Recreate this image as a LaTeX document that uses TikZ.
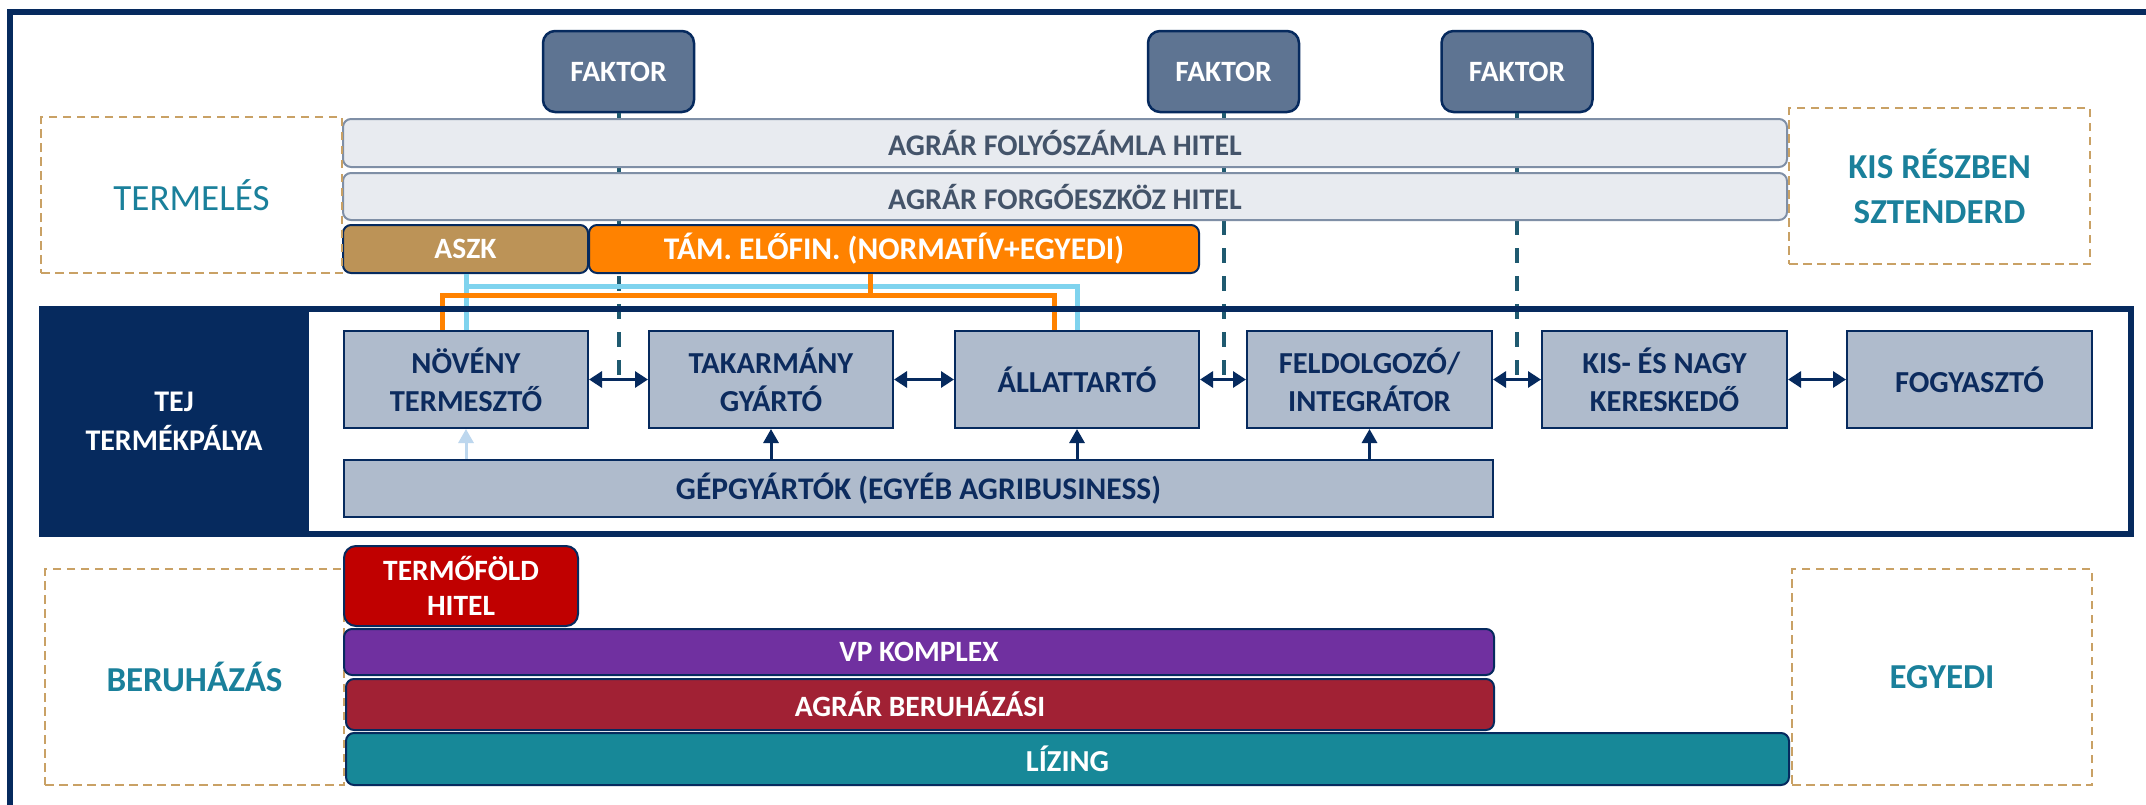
\documentclass[tikz,border=0pt]{standalone}
\usepackage{fontspec}
\setmainfont{Carlito}
\usetikzlibrary{arrows.meta}
\definecolor{navy}{HTML}{062A5E}
\definecolor{ptext}{HTML}{0C2B5E}
\definecolor{faktorfill}{HTML}{5E7492}
\definecolor{flink}{HTML}{1F5A70}
\definecolor{barfill}{HTML}{E8EBF0}
\definecolor{bardraw}{HTML}{7F8FA6}
\definecolor{bartext}{HTML}{44546A}
\definecolor{pfill}{HTML}{AFBBCC}
\definecolor{aszk}{HTML}{BC9357}
\definecolor{orng}{HTML}{FF8200}
\definecolor{lblue}{HTML}{7FD3EE}
\definecolor{pblue}{HTML}{BDD7EE}
\definecolor{tanc}{HTML}{C9A165}
\definecolor{tealtext}{HTML}{1A809B}
\definecolor{redc}{HTML}{C00000}
\definecolor{purp}{HTML}{7030A0}
\definecolor{maroon}{HTML}{A12134}
\definecolor{tealbar}{HTML}{178898}
\newcommand\myfs[2]{\fontsize{#1}{#2}\selectfont}
\begin{document}
\begin{tikzpicture}[x=1pt,y=-1pt,
  faktor/.style={draw=navy, line width=2.5pt, fill=faktorfill, rounded corners=12pt, text=white, font=\myfs{29.5}{35}\bfseries, minimum width=151pt, minimum height=81pt, inner sep=0pt},
  bar/.style={draw=bardraw, line width=2pt, fill=barfill, rounded corners=8pt, text=bartext, font=\myfs{30}{36}\bfseries, minimum width=1444pt, inner sep=0pt},
  cbox/.style={draw=navy, line width=2pt, rounded corners=8pt, text=white, font=\myfs{29.5}{35}\bfseries, align=center, inner sep=0pt},
  pbox/.style={draw=navy, line width=2pt, fill=pfill, text=ptext, font=\myfs{30.5}{38}\bfseries, align=center, minimum width=244pt, minimum height=97pt, inner sep=0pt},
  dbox/.style={draw=tanc, line width=2.5pt, dash pattern=on 8.5pt off 5.5pt, text=tealtext, align=center, minimum width=300pt, inner sep=0pt},
  flinesolid/.style={draw=flink, line width=4pt},
  flinedash/.style={draw=flink, line width=4pt, dash pattern=on 15pt off 13pt},
  dbl/.style={draw=navy, line width=3pt, {Triangle[length=13pt,width=16pt]}-{Triangle[length=13pt,width=16pt]}},
  uparr/.style={draw=navy, line width=3pt, -{Triangle[length=14pt,width=15pt]}},
  lbline/.style={draw=lblue, line width=5pt},
  orline/.style={draw=orng, line width=5pt}
]
\clip (0,0) rectangle (2146,804);
\fill[white] (0,0) rectangle (2146,804);
\draw[navy, line width=6pt] (10,12) rectangle (2200,900);

% FAKTOR boxes
\node[faktor] (F1) at (618.5,71.5) {FAKTOR};
\node[faktor] (F2) at (1223.5,71.5) {FAKTOR};
\node[faktor] (F3) at (1517,71.5) {FAKTOR};

\coordinate (bar2bot) at (0,220);
\coordinate (arrowy) at (0,379);

% process boxes
\path (466,379.5) node[pbox] (NOV) {NÖVÉNY\\TERMESZTŐ};
\path (771,379.5) node[pbox] (TAK) {TAKARMÁNY\\GYÁRTÓ};
\path (1077,379.5) node[pbox] (ALL) {ÁLLATTARTÓ};
\path (1369.5,379.5) node[pbox, minimum width=245pt] (FEL) {FELDOLGOZÓ/\\INTEGRÁTOR};
\path (1664.5,379.5) node[pbox, minimum width=245pt] (KER) {KIS- ÉS NAGY\\KERESKEDŐ};
\path (1969.5,379.5) node[pbox, minimum width=245pt] (FOG) {FOGYASZTÓ};

% FAKTOR lines
\foreach \f in {F1,F2,F3}{
  \draw[flinesolid] (\f.south) -- (\f.south |- bar2bot);
  \draw[flinedash] (\f.south |- bar2bot) -- (\f.south |- arrowy);
}

% bars
\node[bar, minimum height=48pt] (B1) at (1065,143) {AGRÁR FOLYÓSZÁMLA HITEL};
\node[bar, minimum height=47pt] (B2) at (1065,196.5) {AGRÁR FORGÓESZKÖZ HITEL};
\node[cbox, fill=aszk, minimum width=245pt, minimum height=48pt] (ASZK) at (465.5,249) {ASZK};
\node[cbox, fill=orng, minimum width=610pt, minimum height=48pt, font=\myfs{31.5}{36}\bfseries] (TAM) at (894,249) {TÁM. ELŐFIN. (NORMATÍV+EGYEDI)};

% connectors light blue and orange
\coordinate (lby) at (0,286);
\coordinate (ory) at (0,295);
\draw[lbline] (NOV.north |- ASZK.south) -- (NOV.north);
\draw[lbline] (NOV.north |- lby) -| (ALL.north);
\draw[orline] ([xshift=-24pt]TAM.south) -- ([xshift=-24pt]TAM.south |- ory);
\draw[orline] ([xshift=-24pt]NOV.north) |- ([xshift=-23pt]ALL.north |- ory) -- ([xshift=-23pt]ALL.north);

% TEJ region
\draw[navy, line width=6pt] (42,309) rectangle (2131,534);
\node[fill=navy, minimum width=270pt, minimum height=231pt, inner sep=0pt, text=white, font=\myfs{30}{39}\bfseries, align=center] (TEJ) at (174,421.5) {TEJ\\TERMÉKPÁLYA};

% dashed label boxes
\node[dbox, minimum width=301pt, minimum height=156pt, font=\myfs{37}{45}] (TERM) at (191.5,195) {TERMELÉS};
\node[dbox, minimum width=301pt, minimum height=156pt, font=\myfs{35}{45}\bfseries] (KIS) at (1939.5,186) {KIS RÉSZBEN\\SZTENDERD};

% GEP
\node[pbox, minimum width=1149pt, minimum height=57pt, font=\myfs{31.5}{38}\bfseries] (GEP) at (918.5,488.5) {GÉPGYÁRTÓK (EGYÉB AGRIBUSINESS)};

% arrows
\draw[dbl] (NOV.east) -- (TAK.west);
\draw[dbl] (TAK.east) -- (ALL.west);
\draw[dbl] (ALL.east) -- (FEL.west);
\draw[dbl] (FEL.east) -- (KER.west);
\draw[dbl] (KER.east) -- (FOG.west);
\draw[uparr, draw=pblue] (GEP.north -| NOV.south) -- (NOV.south);
\draw[uparr] (GEP.north -| TAK.south) -- (TAK.south);
\draw[uparr] (GEP.north -| ALL.south) -- (ALL.south);
\draw[uparr] (GEP.north -| FEL.south) -- (FEL.south);

% lower section
\node[dbox, minimum width=299pt, minimum height=216pt, font=\myfs{35}{42}\bfseries] (BER) at (194.5,677) {BERUHÁZÁS};
\node[dbox, minimum width=300pt, minimum height=216pt, font=\myfs{35}{42}\bfseries] (EGY) at (1942,677) {EGYEDI};
\node[cbox, fill=redc, rounded corners=12pt, minimum width=234pt, minimum height=80pt, font=\myfs{29.5}{35}\bfseries] (TF) at (461,586) {TERMŐFÖLD\\HITEL};
\node[cbox, fill=purp, minimum width=1150pt, minimum height=46pt] (VP) at (919,652) {VP KOMPLEX};
\node[cbox, fill=maroon, minimum width=1148pt, minimum height=51pt] (AB) at (920,704.5) {AGRÁR BERUHÁZÁSI};
\node[cbox, fill=tealbar, minimum width=1443pt, minimum height=52pt, font=\myfs{30.5}{36}\bfseries] (LIZ) at (1067.5,759) {LÍZING};
\end{tikzpicture}
\end{document}
